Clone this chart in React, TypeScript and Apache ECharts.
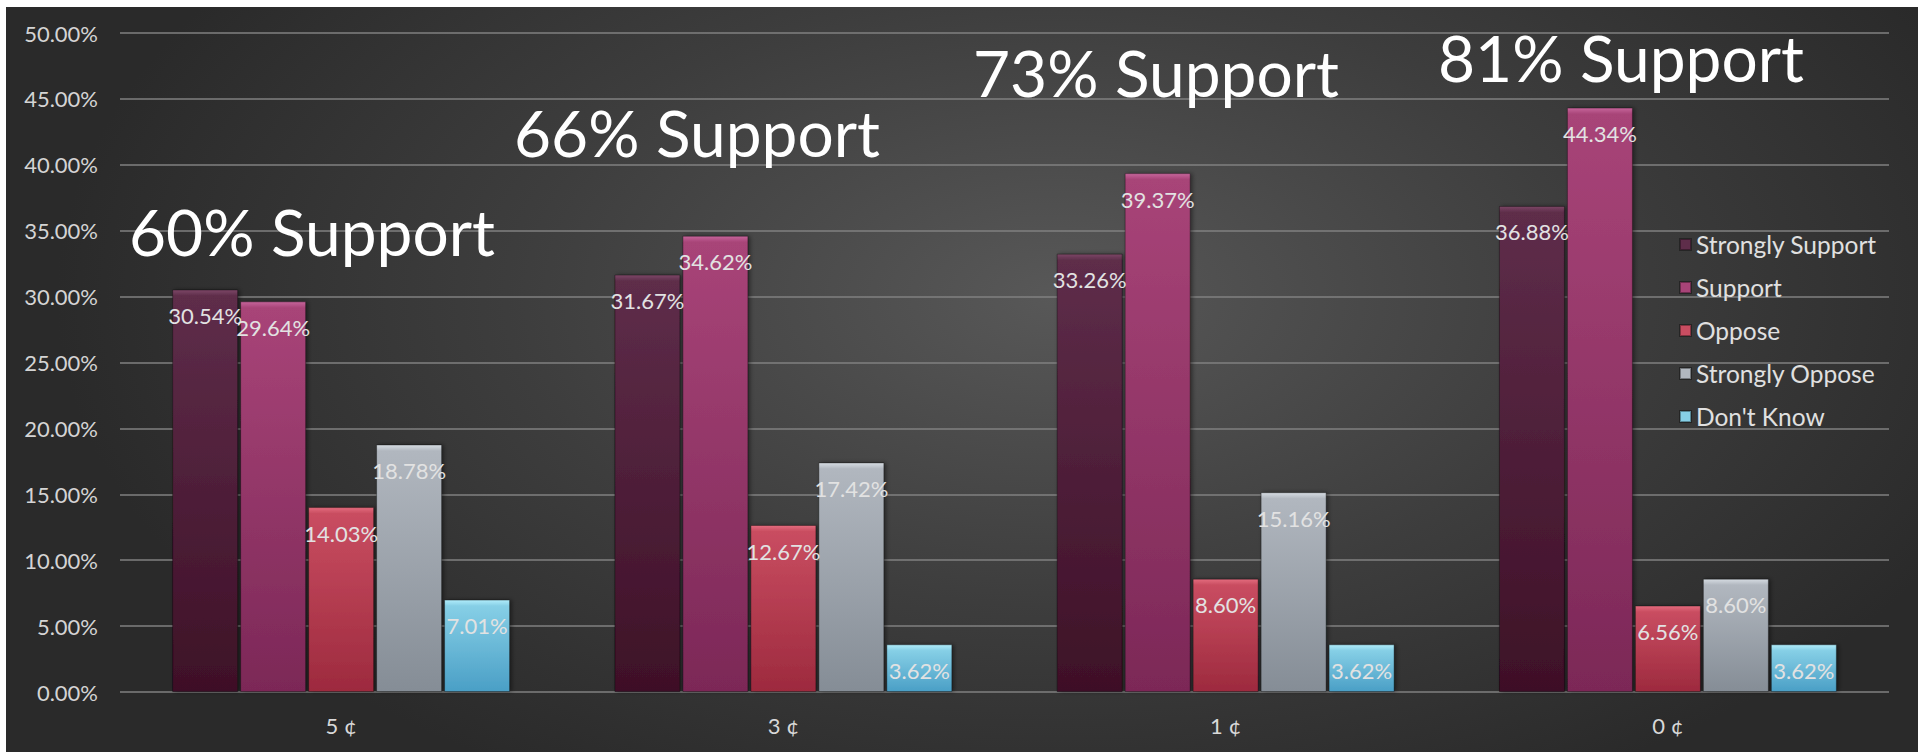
import React, { useEffect, useRef } from "react";
import * as echarts from "echarts";

const categories = ["5 ¢", "3 ¢", "1 ¢", "0 ¢"];
const seriesNames = ["Strongly Support", "Support", "Oppose", "Strongly Oppose", "Don't Know"];
const stronglySupport = [30.54, 31.67, 33.26, 36.88];
const support = [29.64, 34.62, 39.37, 44.34];
const oppose = [14.03, 12.67, 8.6, 6.56];
const stronglyOppose = [18.78, 17.42, 15.16, 8.6];
const dontKnow = [7.01, 3.62, 3.62, 3.62];
const yMin = 0;
const yMax = 50;
const yInterval = 5;
const annotations = ["60% Support", "66% Support", "73% Support", "81% Support"];

// style palettes: [bevel, top, bottom]
const palettes = [
  ["#7c4766", "#5e2d4a", "#3e1027"],
  ["#c6659b", "#a84478", "#7c2857"],
  ["#e46c7e", "#c94d61", "#9d2a3e"],
  ["#d6dce2", "#b1b7bf", "#858d96"],
  ["#b0ecfa", "#86cfe6", "#4a9fc6"],
];

const FONT = "Lato, 'Open Sans', sans-serif";

export default function App() {
  const ref = useRef<HTMLDivElement>(null);
  useEffect(() => {
    if (!ref.current) return;
    const chart = echarts.init(ref.current, null, { renderer: "svg" });
    const plotH = 659;
    const seriesData = [stronglySupport, support, oppose, stronglyOppose, dontKnow];
    const series = seriesData.map((vals, si) => {
      const [bevel, top, bottom] = palettes[si];
      return {
        name: seriesNames[si],
        type: "bar",
        barWidth: 66,
        barGap: "3%",
        data: vals.map((v) => {
          const h = (v / (yMax - yMin)) * plotH;
          const b = Math.min(0.3, 6 / h);
          return {
            value: v,
            itemStyle: {
              color: new echarts.graphic.LinearGradient(0, 0, 0, 1, [
                { offset: 0, color: bevel },
                { offset: b, color: top },
                { offset: 1, color: bottom },
              ]),
            },
          };
        }),
        itemStyle: {
          borderColor: "rgba(0,0,0,0.35)",
          borderWidth: 1,
          shadowColor: "rgba(0,0,0,0.45)",
          shadowBlur: 4,
          shadowOffsetX: 2,
        },
        label: {
          show: true,
          position: "insideTop",
          distance: 15,
          color: "#e2e2e2",
          fontFamily: FONT,
          fontSize: 22,
          formatter: (p: any) => p.value.toFixed(2) + "%",
        },
      };
    });

    const annPos = [
      [123, 224],
      [508, 125],
      [967, 65],
      [1432, 50],
    ];

    chart.setOption({
      animation: false,
      backgroundColor: "transparent",
      color: palettes.map((p) => p[1]),
      grid: { left: 114, right: 29, top: 26, bottom: 60 },
      legend: {
        orient: "vertical",
        left: 1668,
        top: 220,
        itemWidth: 11,
        itemHeight: 11,
        itemGap: 18,
        icon: "rect",
        data: seriesNames,
        textStyle: { color: "#e0e0e0", fontFamily: FONT, fontSize: 24.5 },
      },
      xAxis: {
        type: "category",
        data: categories,
        axisLine: { show: false },
        axisTick: { show: false },
        axisLabel: { color: "#d8d8d8", fontFamily: FONT, fontSize: 22, margin: 22 },
      },
      yAxis: {
        type: "value",
        min: yMin,
        max: yMax,
        interval: yInterval,
        axisLine: { show: false },
        axisTick: { show: false },
        axisLabel: {
          color: "#d4d4d4",
          fontFamily: FONT,
          fontSize: 22,
          margin: 22,
          formatter: (v: number) => v.toFixed(2) + "%",
        },
        splitLine: { lineStyle: { color: "#808080", width: 1.5 } },
      },
      graphic: annotations.map((t, i) => ({
        type: "text",
        x: annPos[i][0],
        y: annPos[i][1],
        z: 100,
        style: {
          text: t,
          fill: "#ffffff",
          font: `64px ${FONT}`,
          textVerticalAlign: "middle",
          verticalAlign: "middle",
        },
      })),
      series,
    });
    return () => chart.dispose();
  }, []);

  return (
    <div
      ref={ref}
      style={{
        position: "absolute",
        left: 6,
        top: 7,
        width: 1912,
        height: 745,
        background:
          "radial-gradient(ellipse 1000px 560px at 1050px 290px, #585858 0%, #3d3d3d 55%, #2a2a2a 100%)",
      }}
    />
  );
}
